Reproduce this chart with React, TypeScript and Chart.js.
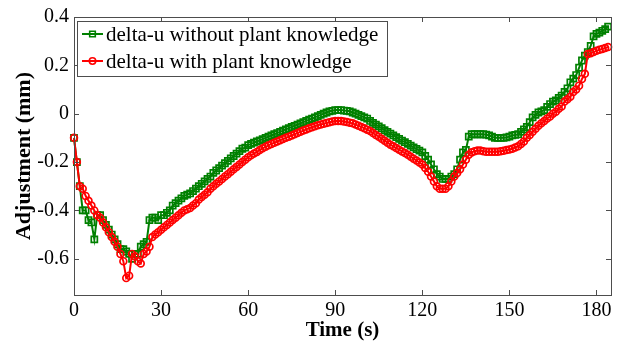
import React, { useEffect, useRef } from 'react';
import { Chart, registerables } from 'chart.js';

Chart.register(...registerables);

// sample times (s), one sample per second
const T_START = 0;
const T_STEP = 1;

const WITHOUT_KNOWLEDGE: number[] = [
  -0.10, -0.20, -0.30, -0.40, -0.40, -0.44, -0.45, -0.52, -0.42, -0.42,
  -0.44, -0.46, -0.48, -0.50, -0.52, -0.54, -0.56, -0.56, -0.57, -0.58,
  -0.60, -0.58, -0.58, -0.55, -0.54, -0.53, -0.44, -0.43, -0.43, -0.44,
  -0.42, -0.42, -0.41, -0.40, -0.38, -0.37, -0.36, -0.35, -0.34, -0.335,
  -0.33, -0.32, -0.31, -0.30, -0.29, -0.28, -0.27, -0.26, -0.245, -0.235,
  -0.225, -0.215, -0.205, -0.195, -0.185, -0.175, -0.165, -0.155, -0.145, -0.14,
  -0.13, -0.125, -0.12, -0.115, -0.11, -0.105, -0.10, -0.095, -0.09, -0.085,
  -0.08, -0.075, -0.07, -0.065, -0.06, -0.055, -0.05, -0.045, -0.04, -0.035,
  -0.03, -0.025, -0.02, -0.015, -0.01, -0.005, 0.0, 0.005, 0.01, 0.012,
  0.015, 0.015, 0.015, 0.013, 0.012, 0.01, 0.005, 0.0, -0.005, -0.01,
  -0.015, -0.02, -0.03, -0.038, -0.045, -0.052, -0.06, -0.068, -0.075, -0.082,
  -0.09, -0.097, -0.104, -0.111, -0.118, -0.125, -0.132, -0.139, -0.146, -0.153,
  -0.16, -0.175, -0.19, -0.21, -0.23, -0.25, -0.26, -0.27, -0.27, -0.27,
  -0.26, -0.25, -0.23, -0.19, -0.16, -0.15, -0.095, -0.085, -0.085, -0.085,
  -0.085, -0.085, -0.087, -0.09, -0.095, -0.10, -0.10, -0.10, -0.10, -0.098,
  -0.095, -0.09, -0.088, -0.085, -0.075, -0.065, -0.055, -0.035, -0.015, -0.005,
  0.005, 0.01, 0.015, 0.028, 0.04, 0.05, 0.055, 0.065, 0.075, 0.09,
  0.105, 0.13, 0.145, 0.16, 0.19, 0.22, 0.24, 0.255, 0.28, 0.32,
  0.33, 0.335, 0.343, 0.35, 0.36,
];

const WITH_KNOWLEDGE: number[] = [
  -0.10, -0.20, -0.30, -0.31, -0.34, -0.36, -0.38, -0.40, -0.42, -0.43,
  -0.45, -0.47, -0.49, -0.51, -0.53, -0.55, -0.58, -0.61, -0.68, -0.67,
  -0.58, -0.59, -0.61, -0.62, -0.58, -0.57, -0.55, -0.51, -0.50, -0.49,
  -0.48, -0.47, -0.46, -0.45, -0.44, -0.43, -0.42, -0.41, -0.40, -0.395,
  -0.39, -0.38, -0.37, -0.355, -0.345, -0.335, -0.325, -0.31, -0.30, -0.29,
  -0.28, -0.27, -0.26, -0.25, -0.24, -0.23, -0.22, -0.21, -0.20, -0.19,
  -0.18, -0.172, -0.165, -0.158, -0.15, -0.143, -0.137, -0.131, -0.125, -0.12,
  -0.115, -0.11, -0.105, -0.10, -0.095, -0.09, -0.085, -0.08, -0.075, -0.07,
  -0.065, -0.06, -0.056, -0.052, -0.048, -0.045, -0.042, -0.038, -0.035, -0.032,
  -0.03, -0.03, -0.03, -0.032, -0.034, -0.037, -0.04, -0.045, -0.05, -0.055,
  -0.06, -0.066, -0.072, -0.08, -0.088, -0.095, -0.104, -0.112, -0.12, -0.128,
  -0.135, -0.142, -0.149, -0.156, -0.163, -0.17, -0.178, -0.186, -0.194, -0.202,
  -0.21, -0.225, -0.24, -0.26, -0.28, -0.30, -0.31, -0.31, -0.31, -0.30,
  -0.28, -0.26, -0.245, -0.23, -0.21, -0.19, -0.17, -0.16, -0.155, -0.152,
  -0.152, -0.155, -0.157, -0.157, -0.157, -0.157, -0.157, -0.155, -0.153, -0.15,
  -0.148, -0.145, -0.14, -0.135, -0.125, -0.115, -0.10, -0.088, -0.075, -0.062,
  -0.05, -0.04, -0.03, -0.02, -0.012, 0.0, 0.008, 0.02, 0.03, 0.05,
  0.06, 0.07, 0.09, 0.10, 0.116, 0.144, 0.165, 0.247, 0.25, 0.255,
  0.26, 0.265, 0.268, 0.272, 0.276,
];

const SERIES_LABELS = ['delta-u without plant knowledge', 'delta-u with plant knowledge'];
const X_TICKS = [0, 30, 60, 90, 120, 150, 180];
const Y_TICKS = [-0.6, -0.4, -0.2, 0, 0.2, 0.4];
const X_TITLE = 'Time (s)';
const Y_TITLE = 'Adjustment (mm)';

const GREEN = '#008000';
const RED = '#ff0000';
const AXIS = '#4d4d4d';
const FONT = '"Liberation Serif", "Times New Roman", serif';

const toPoints = (vals: number[]) => vals.map((v, i) => ({ x: T_START + i * T_STEP, y: v }));

const framePlugin = {
  id: 'matlabFrame',
  afterDraw(chart: any) {
    const { ctx, chartArea } = chart;
    const { left, right, top, bottom } = chartArea;
    const xs = chart.scales.x;
    const ys = chart.scales.y;
    ctx.save();
    ctx.strokeStyle = AXIS;
    ctx.lineWidth = 1;
    ctx.strokeRect(Math.round(left) + 0.5, Math.round(top) + 0.5, Math.round(right - left), Math.round(bottom - top));
    const tl = 5;
    ctx.beginPath();
    X_TICKS.forEach((t) => {
      const px = Math.round(xs.getPixelForValue(t)) + 0.5;
      ctx.moveTo(px, bottom);
      ctx.lineTo(px, bottom - tl);
      ctx.moveTo(px, top);
      ctx.lineTo(px, top + tl);
    });
    Y_TICKS.forEach((t) => {
      const py = Math.round(ys.getPixelForValue(t)) + 0.5;
      ctx.moveTo(left, py);
      ctx.lineTo(left + tl, py);
      ctx.moveTo(right, py);
      ctx.lineTo(right - tl, py);
    });
    ctx.stroke();

    // legend
    const lx = 77, ly = 21, lw = 310, lh = 55;
    ctx.fillStyle = '#ffffff';
    ctx.fillRect(lx, ly, lw, lh);
    ctx.strokeStyle = AXIS;
    ctx.lineWidth = 1;
    ctx.strokeRect(lx + 0.5, ly + 0.5, lw, lh);
    const rows = [
      { label: SERIES_LABELS[0], color: GREEN, style: 'rect', y: ly + 13 },
      { label: SERIES_LABELS[1], color: RED, style: 'circle', y: ly + 40 },
    ];
    rows.forEach((r) => {
      ctx.strokeStyle = r.color;
      ctx.lineWidth = 2;
      ctx.beginPath();
      ctx.moveTo(lx + 5, r.y);
      ctx.lineTo(lx + 26, r.y);
      ctx.stroke();
      ctx.lineWidth = 1.6;
      ctx.beginPath();
      if (r.style === 'rect') {
        ctx.rect(lx + 15.5 - 2.8, r.y - 2.8, 5.6, 5.6);
      } else {
        ctx.arc(lx + 15.5, r.y, 3.2, 0, Math.PI * 2);
      }
      ctx.stroke();
      ctx.fillStyle = '#000';
      ctx.font = `21px ${FONT}`;
      ctx.textBaseline = 'middle';
      ctx.textAlign = 'left';
      ctx.fillText(r.label, lx + 29, r.y + 1);
    });
    ctx.restore();
  },
};

export default function App() {
  const ref = useRef<HTMLCanvasElement | null>(null);
  useEffect(() => {
    if (!ref.current) return;
    const chart = new Chart(ref.current, {
      type: 'line',
      data: {
        datasets: [
          {
            label: SERIES_LABELS[0],
            data: toPoints(WITHOUT_KNOWLEDGE),
            borderColor: GREEN,
            backgroundColor: 'transparent',
            borderWidth: 2,
            pointStyle: 'rect',
            pointRadius: 4.3,
            pointBorderWidth: 1.7,
            pointBorderColor: GREEN,
            pointBackgroundColor: 'transparent',
            tension: 0,
            order: 1,
            clip: false as any,
          },
          {
            label: SERIES_LABELS[1],
            data: toPoints(WITH_KNOWLEDGE),
            borderColor: RED,
            backgroundColor: 'transparent',
            borderWidth: 2,
            pointStyle: 'circle',
            pointRadius: 3.4,
            pointBorderWidth: 1.7,
            pointBorderColor: RED,
            pointBackgroundColor: 'transparent',
            tension: 0,
            order: 0,
            clip: false as any,
          },
        ],
      },
      options: {
        animation: false,
        responsive: true,
        maintainAspectRatio: false,
        layout: { padding: { left: 0, right: 14, top: 17, bottom: 0 } },
        plugins: { legend: { display: false }, tooltip: { enabled: false } },
        scales: {
          x: {
            type: 'linear',
            min: 0,
            max: 185,
            grid: { display: false, drawTicks: false },
            border: { display: false },
            afterBuildTicks: (s: any) => {
              s.ticks = X_TICKS.map((v) => ({ value: v }));
            },
            afterFit: (s: any) => {
              s.height = 49;
            },
            ticks: {
              color: '#000',
              padding: 4,
              maxRotation: 0,
              font: { family: FONT, size: 20 },
            },
            title: {
              display: true,
              text: X_TITLE,
              color: '#000',
              padding: { top: 0, bottom: 1 },
              font: { family: FONT, size: 21, weight: 'bold' },
            },
          },
          y: {
            type: 'linear',
            min: -0.75,
            max: 0.4,
            grid: { display: false, drawTicks: false },
            border: { display: false },
            afterBuildTicks: (s: any) => {
              s.ticks = Y_TICKS.map((v) => ({ value: v }));
            },
            afterFit: (s: any) => {
              s.width = 74;
            },
            ticks: {
              color: '#000',
              padding: 5,
              font: { family: FONT, size: 20 },
              callback: (v: any) => (Number(v) === 0 ? '0' : Number(v).toFixed(1)),
            },
            title: {
              display: true,
              text: Y_TITLE,
              color: '#000',
              padding: { top: 11, bottom: 0 },
              font: { family: FONT, size: 22, weight: 'bold' },
            },
          },
        },
      },
      plugins: [framePlugin],
    });
    return () => chart.destroy();
  }, []);
  return (
    <div style={{ position: 'fixed', left: 0, top: 0, width: 625, height: 344, background: '#fff' }}>
      <canvas ref={ref} />
    </div>
  );
}
